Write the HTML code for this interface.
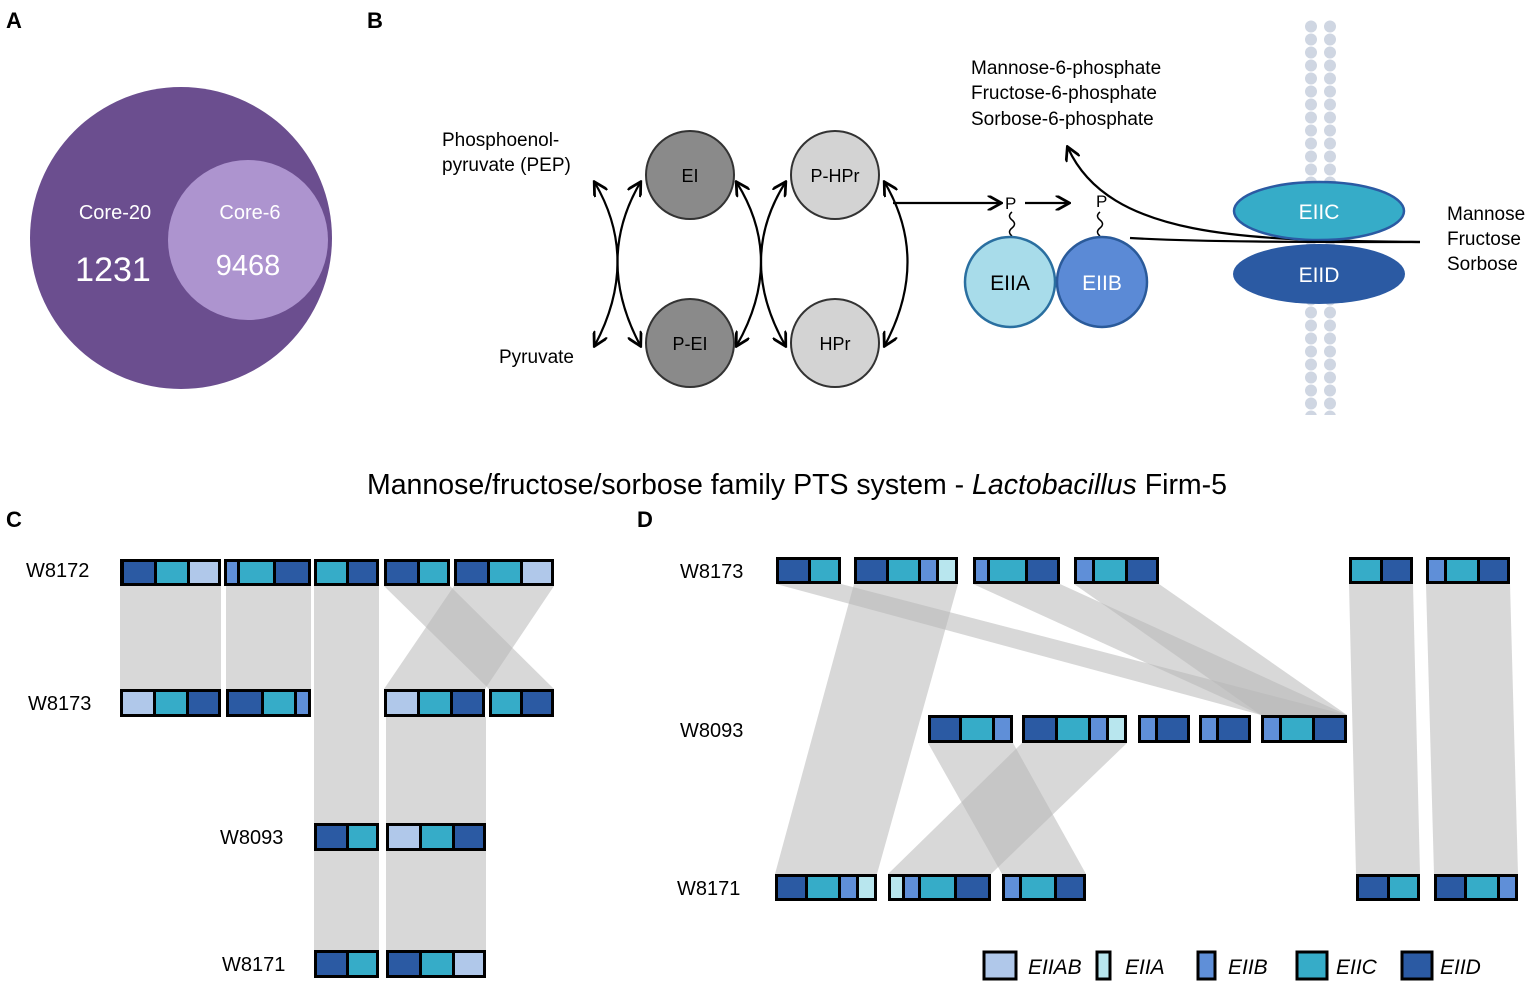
<!DOCTYPE html>
<html><head><meta charset="utf-8"><style>
body{margin:0;background:#fff}
svg{display:block;font-family:"Liberation Sans",Arial,sans-serif}
</style></head><body>
<svg width="1535" height="984" viewBox="0 0 1535 984" xmlns="http://www.w3.org/2000/svg">
<defs>
<marker id="ah" viewBox="0 0 10 10" refX="8" refY="5" markerWidth="7" markerHeight="7" orient="auto-start-reverse"><path d="M0,0 L9,5 L0,10" fill="none" stroke="#000" stroke-width="1.8"/></marker>
<pattern id="dots" x="1305" y="20" width="19" height="13" patternUnits="userSpaceOnUse"><circle cx="6" cy="6.5" r="6" fill="#cfd6e2"/></pattern>
</defs>
<g font-weight="bold" font-size="22"><text x="6" y="28">A</text><text x="367" y="28">B</text><text x="6" y="527">C</text><text x="637" y="527">D</text></g>
<!-- Panel A -->
<circle cx="181" cy="238" r="151" fill="#6b4e8f"/>
<circle cx="248" cy="240" r="80" fill="#ad94cf"/>
<g fill="#fff" text-anchor="middle"><text x="115" y="219" font-size="20">Core-20</text><text x="113" y="281" font-size="34">1231</text><text x="250" y="219" font-size="20">Core-6</text><text x="248" y="275" font-size="29">9468</text></g>
<!-- Panel B -->
<rect x="1305" y="20" width="38" height="395" fill="url(#dots)"/>
<g font-size="19"><text x="442" y="146">Phosphoenol-</text><text x="442" y="171">pyruvate (PEP)</text><text x="499" y="363">Pyruvate</text>
<text x="971" y="74">Mannose-6-phosphate</text><text x="971" y="99">Fructose-6-phosphate</text><text x="971" y="125">Sorbose-6-phosphate</text>
<text x="1447" y="220">Mannose</text><text x="1447" y="245">Fructose</text><text x="1447" y="270">Sorbose</text></g>
<g stroke="#333" stroke-width="2"><circle cx="690" cy="175" r="44" fill="#8a8a8a"/><circle cx="835" cy="175" r="44" fill="#d3d3d3"/><circle cx="690" cy="343" r="44" fill="#8a8a8a"/><circle cx="835" cy="343" r="44" fill="#d3d3d3"/></g>
<g font-size="18" text-anchor="middle"><text x="690" y="182">EI</text><text x="835" y="182">P-HPr</text><text x="690" y="350">P-EI</text><text x="835" y="350">HPr</text></g>
<g fill="none" stroke="#000" stroke-width="2.2" marker-start="url(#ah)" marker-end="url(#ah)">
<path d="M595,183 Q640,260 595,345"/><path d="M640,183 Q595,260 640,345"/>
<path d="M737,183 Q785,260 737,345"/><path d="M785,183 Q737,260 785,345"/>
<path d="M885,183 Q930,260 885,345"/>
</g>
<g fill="none" stroke="#000" stroke-width="2.2"><path d="M893,203 L1000,203" marker-end="url(#ah)"/><path d="M1025,203 L1068,203" marker-end="url(#ah)"/>
<path d="M1420,242 C1250,240 1110,240 1068,148" marker-end="url(#ah)"/>
<path d="M1012,212 q-5,4 0,8 q5,4 0,8 q-5,4 0,8" stroke-width="1.5"/><path d="M1100,212 q-5,4 0,8 q5,4 0,8 q-5,4 0,8" stroke-width="1.5"/></g>
<g font-size="17"><text x="1005" y="209">P</text><text x="1096" y="207">P</text></g>
<circle cx="1010" cy="282" r="45" fill="#a8dcea" stroke="#2a6fa0" stroke-width="2.5"/>
<circle cx="1102" cy="282" r="45" fill="#5b8ad6" stroke="#2a5a9a" stroke-width="2.5"/>
<g font-size="21" text-anchor="middle"><text x="1010" y="290">EIIA</text><text x="1102" y="290" fill="#fff">EIIB</text></g>
<ellipse cx="1319" cy="274" rx="86" ry="30" fill="#2b5aa3"/>
<ellipse cx="1319" cy="211" rx="85" ry="29" fill="#36acc8" stroke="#2b5aa3" stroke-width="2.5"/>
<path d="M1130,238 C1200,242 1300,242 1420,242" fill="none" stroke="#000" stroke-width="2.2"/>
<g font-size="21" fill="#fff" text-anchor="middle"><text x="1319" y="219">EIIC</text><text x="1319" y="282">EIID</text></g>
<text x="797" y="494" font-size="28.5" text-anchor="middle">Mannose/fructose/sorbose family PTS system - <tspan font-style="italic">Lactobacillus</tspan> Firm-5</text>
<!-- ribbons -->
<g fill="#b8b8b8" fill-opacity="0.55">
<polygon points="120,586 221,586 221,689 120,689"/><polygon points="226,586 311,586 311,689 226,689"/>
<polygon points="314,586 379,586 379,950 314,950"/>
<polygon points="384,586 450,586 554,689 489,689"/><polygon points="454,586 554,586 485,689 384,689"/>
<polygon points="386,717 486,717 486,950 386,950"/>
<polygon points="776,584 841,584 1347,715 1261,715"/><polygon points="973,584 1060,584 1347,715 1261,715"/><polygon points="1074,584 1159,584 1347,715 1261,715"/>
<polygon points="854,584 958,584 877,874 775,874"/>
<polygon points="928,743 1013,743 1086,874 1002,874"/><polygon points="1022,743 1127,743 991,874 888,874"/>
<polygon points="1349,584 1413,584 1420,874 1356,874"/><polygon points="1426,584 1510,584 1518,874 1434,874"/>
</g>
<g font-size="20"><text x="26" y="577">W8172</text><text x="28" y="710">W8173</text><text x="220" y="844">W8093</text><text x="222" y="971">W8171</text>
<text x="680" y="578">W8173</text><text x="680" y="737">W8093</text><text x="677" y="895">W8171</text></g>
<g>
<rect x="120" y="559" width="101" height="27" fill="#000"/>
<rect x="124" y="562" width="30" height="21" fill="#2b5aa3"/><rect x="157" y="562" width="30" height="21" fill="#36acc8"/><rect x="190" y="562" width="28" height="21" fill="#b0c8ea"/>
<rect x="224" y="559" width="87" height="27" fill="#000"/>
<rect x="227" y="562" width="10" height="21" fill="#5f8fd8"/><rect x="240" y="562" width="33" height="21" fill="#36acc8"/><rect x="276" y="562" width="32" height="21" fill="#2b5aa3"/>
<rect x="314" y="559" width="65" height="27" fill="#000"/>
<rect x="317" y="562" width="29" height="21" fill="#36acc8"/><rect x="349" y="562" width="27" height="21" fill="#2b5aa3"/>
<rect x="384" y="559" width="66" height="27" fill="#000"/>
<rect x="387" y="562" width="30" height="21" fill="#2b5aa3"/><rect x="420" y="562" width="27" height="21" fill="#36acc8"/>
<rect x="454" y="559" width="100" height="27" fill="#000"/>
<rect x="457" y="562" width="30" height="21" fill="#2b5aa3"/><rect x="490" y="562" width="30" height="21" fill="#36acc8"/><rect x="523" y="562" width="28" height="21" fill="#b0c8ea"/>
<rect x="120" y="689" width="101" height="28" fill="#000"/>
<rect x="123" y="692" width="30" height="22" fill="#b0c8ea"/><rect x="156" y="692" width="30" height="22" fill="#36acc8"/><rect x="189" y="692" width="29" height="22" fill="#2b5aa3"/>
<rect x="226" y="689" width="85" height="28" fill="#000"/>
<rect x="229" y="692" width="32" height="22" fill="#2b5aa3"/><rect x="264" y="692" width="30" height="22" fill="#36acc8"/><rect x="297" y="692" width="11" height="22" fill="#5f8fd8"/>
<rect x="384" y="689" width="101" height="28" fill="#000"/>
<rect x="387" y="692" width="30" height="22" fill="#b0c8ea"/><rect x="420" y="692" width="30" height="22" fill="#36acc8"/><rect x="453" y="692" width="29" height="22" fill="#2b5aa3"/>
<rect x="489" y="689" width="65" height="28" fill="#000"/>
<rect x="492" y="692" width="28" height="22" fill="#36acc8"/><rect x="523" y="692" width="28" height="22" fill="#2b5aa3"/>
<rect x="314" y="823" width="65" height="28" fill="#000"/>
<rect x="317" y="826" width="29" height="22" fill="#2b5aa3"/><rect x="349" y="826" width="27" height="22" fill="#36acc8"/>
<rect x="386" y="823" width="100" height="28" fill="#000"/>
<rect x="389" y="826" width="30" height="22" fill="#b0c8ea"/><rect x="422" y="826" width="30" height="22" fill="#36acc8"/><rect x="455" y="826" width="28" height="22" fill="#2b5aa3"/>
<rect x="314" y="950" width="65" height="28" fill="#000"/>
<rect x="317" y="953" width="29" height="22" fill="#2b5aa3"/><rect x="349" y="953" width="27" height="22" fill="#36acc8"/>
<rect x="386" y="950" width="100" height="28" fill="#000"/>
<rect x="389" y="953" width="30" height="22" fill="#2b5aa3"/><rect x="422" y="953" width="30" height="22" fill="#36acc8"/><rect x="455" y="953" width="28" height="22" fill="#b0c8ea"/>
<rect x="776" y="557" width="65" height="27" fill="#000"/>
<rect x="779" y="560" width="29" height="21" fill="#2b5aa3"/><rect x="811" y="560" width="27" height="21" fill="#36acc8"/>
<rect x="854" y="557" width="104" height="27" fill="#000"/>
<rect x="857" y="560" width="29" height="21" fill="#2b5aa3"/><rect x="889" y="560" width="29" height="21" fill="#36acc8"/><rect x="921" y="560" width="15" height="21" fill="#5f8fd8"/><rect x="939" y="560" width="16" height="21" fill="#b8e6ee"/>
<rect x="973" y="557" width="87" height="27" fill="#000"/>
<rect x="976" y="560" width="11" height="21" fill="#5f8fd8"/><rect x="990" y="560" width="35" height="21" fill="#36acc8"/><rect x="1028" y="560" width="29" height="21" fill="#2b5aa3"/>
<rect x="1074" y="557" width="85" height="27" fill="#000"/>
<rect x="1077" y="560" width="15" height="21" fill="#5f8fd8"/><rect x="1095" y="560" width="30" height="21" fill="#36acc8"/><rect x="1128" y="560" width="28" height="21" fill="#2b5aa3"/>
<rect x="1349" y="557" width="64" height="27" fill="#000"/>
<rect x="1352" y="560" width="28" height="21" fill="#36acc8"/><rect x="1383" y="560" width="27" height="21" fill="#2b5aa3"/>
<rect x="1426" y="557" width="84" height="27" fill="#000"/>
<rect x="1429" y="560" width="15" height="21" fill="#5f8fd8"/><rect x="1447" y="560" width="30" height="21" fill="#36acc8"/><rect x="1480" y="560" width="27" height="21" fill="#2b5aa3"/>
<rect x="928" y="715" width="85" height="28" fill="#000"/>
<rect x="931" y="718" width="28" height="22" fill="#2b5aa3"/><rect x="962" y="718" width="30" height="22" fill="#36acc8"/><rect x="995" y="718" width="15" height="22" fill="#5f8fd8"/>
<rect x="1022" y="715" width="105" height="28" fill="#000"/>
<rect x="1025" y="718" width="30" height="22" fill="#2b5aa3"/><rect x="1058" y="718" width="30" height="22" fill="#36acc8"/><rect x="1091" y="718" width="15" height="22" fill="#5f8fd8"/><rect x="1109" y="718" width="15" height="22" fill="#b8e6ee"/>
<rect x="1138" y="715" width="52" height="28" fill="#000"/>
<rect x="1141" y="718" width="14" height="22" fill="#5f8fd8"/><rect x="1158" y="718" width="29" height="22" fill="#2b5aa3"/>
<rect x="1199" y="715" width="52" height="28" fill="#000"/>
<rect x="1202" y="718" width="14" height="22" fill="#5f8fd8"/><rect x="1219" y="718" width="29" height="22" fill="#2b5aa3"/>
<rect x="1261" y="715" width="86" height="28" fill="#000"/>
<rect x="1264" y="718" width="15" height="22" fill="#5f8fd8"/><rect x="1282" y="718" width="30" height="22" fill="#36acc8"/><rect x="1315" y="718" width="29" height="22" fill="#2b5aa3"/>
<rect x="775" y="874" width="102" height="27" fill="#000"/>
<rect x="778" y="877" width="27" height="21" fill="#2b5aa3"/><rect x="808" y="877" width="30" height="21" fill="#36acc8"/><rect x="841" y="877" width="15" height="21" fill="#5f8fd8"/><rect x="859" y="877" width="15" height="21" fill="#b8e6ee"/>
<rect x="888" y="874" width="103" height="27" fill="#000"/>
<rect x="891" y="877" width="11" height="21" fill="#b8e6ee"/><rect x="905" y="877" width="13" height="21" fill="#5f8fd8"/><rect x="921" y="877" width="33" height="21" fill="#36acc8"/><rect x="957" y="877" width="31" height="21" fill="#2b5aa3"/>
<rect x="1002" y="874" width="84" height="27" fill="#000"/>
<rect x="1005" y="877" width="14" height="21" fill="#5f8fd8"/><rect x="1022" y="877" width="32" height="21" fill="#36acc8"/><rect x="1057" y="877" width="26" height="21" fill="#2b5aa3"/>
<rect x="1356" y="874" width="64" height="27" fill="#000"/>
<rect x="1359" y="877" width="28" height="21" fill="#2b5aa3"/><rect x="1390" y="877" width="27" height="21" fill="#36acc8"/>
<rect x="1434" y="874" width="84" height="27" fill="#000"/>
<rect x="1437" y="877" width="27" height="21" fill="#2b5aa3"/><rect x="1467" y="877" width="30" height="21" fill="#36acc8"/><rect x="1500" y="877" width="15" height="21" fill="#5f8fd8"/>
</g>
<g stroke="#000" stroke-width="3">
<rect x="984" y="952" width="32" height="27" fill="#b0c8ea"/>
<rect x="1097" y="952" width="13" height="27" fill="#b8e6ee"/>
<rect x="1198" y="952" width="17" height="27" fill="#5f8fd8"/>
<rect x="1297" y="952" width="30" height="27" fill="#36acc8"/>
<rect x="1402" y="952" width="30" height="27" fill="#2b5aa3"/>
</g>
<g font-size="21" font-style="italic"><text x="1028" y="974">EIIAB</text><text x="1125" y="974">EIIA</text><text x="1228" y="974">EIIB</text><text x="1336" y="974">EIIC</text><text x="1440" y="974">EIID</text></g>
</svg>
</body></html>
